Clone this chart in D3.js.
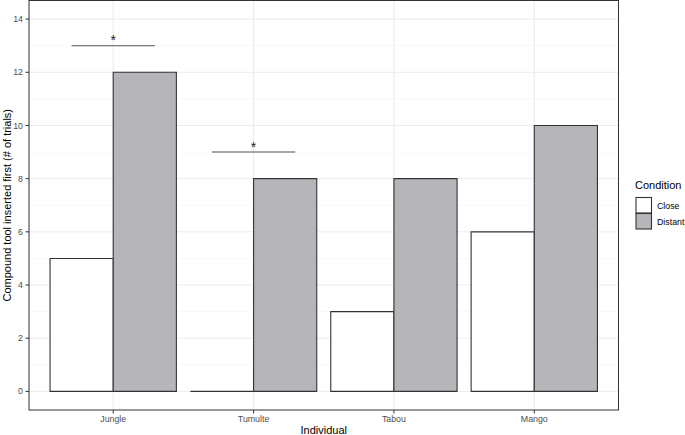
<!DOCTYPE html>
<html><head><meta charset="utf-8">
<script src="https://cdn.jsdelivr.net/npm/d3@7"></script>
<style>body{margin:0;background:#fff}svg{display:block;font-family:"Liberation Sans",Arial,Helvetica,sans-serif}</style>
</head><body>
<svg id="c" width="685" height="435"></svg>
<script>
const individuals = ["Jungle","Tumulte","Tabou","Mango"];
const conditions = ["Close","Distant"];
const closeValues = [5,0,3,6];
const distantValues = [12,8,8,10];
const yTicks = [0,2,4,6,8,10,12,14];
const sigLabels = [{ind:"Jungle", y:13, label:"*"},{ind:"Tumulte", y:9, label:"*"}];
const fills = {Close:"#ffffff", Distant:"#b6b6ba"};

const svg = d3.select("#c");
const L=29, R=618.5, T=0.5, B=410;
const y = d3.scaleLinear().domain([-0.7,14.7]).range([B,T]);
// ggplot-like discrete scale: 0.6 expansion on each side
const x = d3.scalePoint().domain(individuals).range([L,R]).padding(0.6);
const cx = d => x(d);
const groupW = x.step()*0.9;
const xs = d3.scaleBand().domain(conditions).range([0,groupW]);

// grid
const g = svg.append("g");
const minor = d3.range(-1,15,2).filter(v=>v>-0.7&&v<14.7);
g.selectAll(".mn").data(minor).join("line").attr("x1",L).attr("x2",R).attr("y1",d=>y(d)).attr("y2",d=>y(d)).attr("stroke","#f3f3f3").attr("stroke-width",0.6);
g.selectAll(".mj").data(yTicks).join("line").attr("x1",L).attr("x2",R).attr("y1",d=>y(d)).attr("y2",d=>y(d)).attr("stroke","#ebebeb").attr("stroke-width",1);
g.selectAll(".vx").data(individuals).join("line").attr("x1",d=>cx(d)).attr("x2",d=>cx(d)).attr("y1",T).attr("y2",B).attr("stroke","#ebebeb").attr("stroke-width",1);

// bars (paths so that zero-height bars still show their outline)
const rows = [];
individuals.forEach((ind,i)=>{rows.push({ind,cond:"Close",v:closeValues[i]});rows.push({ind,cond:"Distant",v:distantValues[i]});});
svg.append("g").selectAll("path").data(rows).join("path")
 .attr("d",d=>{
   const x0=cx(d.ind)-groupW/2+xs(d.cond), x1=x0+xs.bandwidth(), y0=y(0), y1=y(d.v);
   return `M${x0},${y0}L${x0},${y1}L${x1},${y1}L${x1},${y0}Z`;
 })
 .attr("fill",d=>fills[d.cond]).attr("stroke","#333").attr("stroke-width",1.1);

// significance
const sg = svg.append("g");
sigLabels.forEach(s=>{
  sg.append("line").attr("x1",cx(s.ind)-groupW*0.33).attr("x2",cx(s.ind)+groupW*0.33)
   .attr("y1",y(s.y)).attr("y2",y(s.y)).attr("stroke","#555").attr("stroke-width",1.1);
  sg.append("text").attr("x",cx(s.ind)).attr("y",y(s.y)-0.5).attr("text-anchor","middle")
   .attr("font-size",14).attr("fill","#222").text(s.label);
});

// panel border
svg.append("rect").attr("x",L).attr("y",T).attr("width",R-L).attr("height",B-T).attr("fill","none").attr("stroke","#333").attr("stroke-width",1);

// y axis
const ya = svg.append("g");
ya.selectAll("line").data(yTicks).join("line").attr("x1",L-3.5).attr("x2",L).attr("y1",d=>y(d)).attr("y2",d=>y(d)).attr("stroke","#333");
ya.selectAll("text").data(yTicks).join("text").attr("x",L-6).attr("y",d=>y(d)).attr("dy","0.35em").attr("text-anchor","end").attr("font-size",8.8).attr("fill","#4d4d4d").text(d=>d);
// x axis
const xa = svg.append("g");
xa.selectAll("line").data(individuals).join("line").attr("x1",d=>cx(d)).attr("x2",d=>cx(d)).attr("y1",B).attr("y2",B+3.5).attr("stroke","#333");
xa.selectAll("text").data(individuals).join("text").attr("x",d=>cx(d)).attr("y",B+12).attr("text-anchor","middle").attr("font-size",8.8).attr("fill","#4d4d4d").text(d=>d);

// titles
svg.append("text").attr("x",(L+R)/2).attr("y",434).attr("text-anchor","middle").attr("font-size",11).attr("fill","#000").text("Individual");
svg.append("text").attr("transform",`translate(10.5,${(T+B)/2}) rotate(-90)`).attr("text-anchor","middle").attr("font-size",11).attr("fill","#000").text("Compound tool inserted first (# of trials)");

// legend
const lg = svg.append("g");
lg.append("text").attr("x",635).attr("y",189).attr("font-size",11).attr("fill","#000").text("Condition");
conditions.forEach((c,i)=>{
  lg.append("rect").attr("x",636).attr("y",197.5+i*16).attr("width",15.5).attr("height",15.5).attr("fill",fills[c]).attr("stroke","#333").attr("stroke-width",1.1);
  lg.append("text").attr("x",657).attr("y",205.5+i*16).attr("dy","0.35em").attr("font-size",8.8).attr("fill","#000").text(c);
});
</script>
</body></html>
